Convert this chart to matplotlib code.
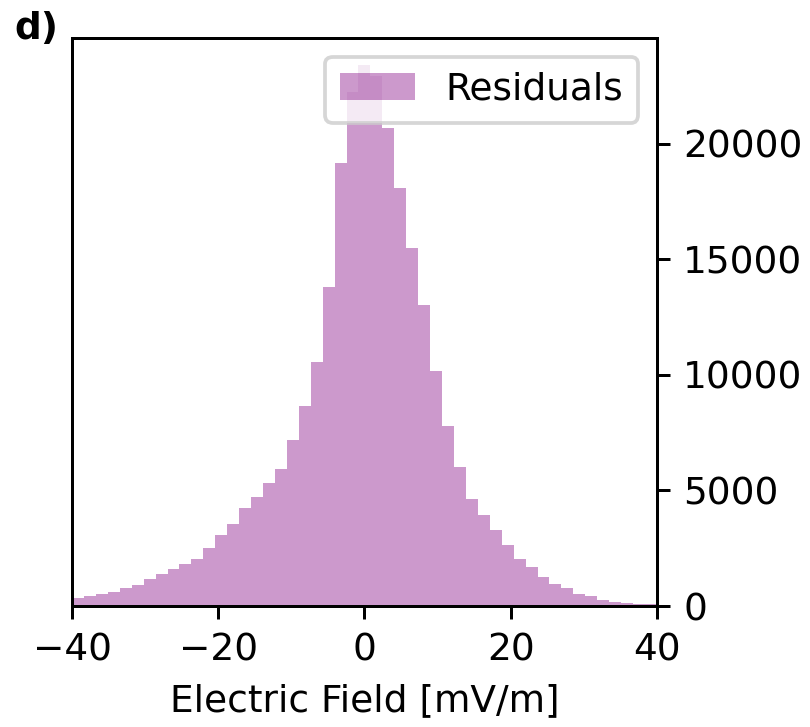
import numpy as np
import matplotlib
matplotlib.use("Agg")
import matplotlib.pyplot as plt

# Histogram of residuals (49 bins between -40 and 40 mV/m)
bin_edges = np.linspace(-40, 40, 50)
counts = [350, 440, 540, 600, 765, 910, 1155, 1400, 1615, 1805,
          2020, 2495, 3060, 3535, 4260, 4733, 5310, 5930, 7200, 8645,
          10577, 13824, 19163, 22240, 23420, 22950, 20678, 18082, 15512, 13030,
          10165, 7770, 6017, 4646, 3925, 3304, 2655, 2020, 1703, 1241,
          967, 760, 520, 440, 280, 190, 110, 100, 90]
series_label = "Residuals"
x_label = "Electric Field [mV/m]"
panel_label = "d)"
x_ticks = [-40, -20, 0, 20, 40]
y_ticks = [0, 5000, 10000, 15000, 20000]

fig = plt.figure(figsize=(3.0, 727 / 270), dpi=270)
ax = fig.add_axes([0.0889, 0.1664, 0.811 - 0.0889, 0.948 - 0.1664])

centers = 0.5 * (bin_edges[:-1] + bin_edges[1:])
ax.hist(centers, bins=bin_edges, weights=counts, color="purple", alpha=0.4,
        label=series_label)

ax.set_xlim(-40, 40)
ax.set_ylim(0, max(counts) * 1.05)
ax.set_xticks(x_ticks)
ax.set_yticks(y_ticks)
ax.yaxis.tick_right()
ax.set_xlabel(x_label)
ax.legend(loc="upper right")

fig.text(0.018, 0.985, panel_label, fontweight="bold", va="top", ha="left")

fig.savefig("out.png", dpi=270)
